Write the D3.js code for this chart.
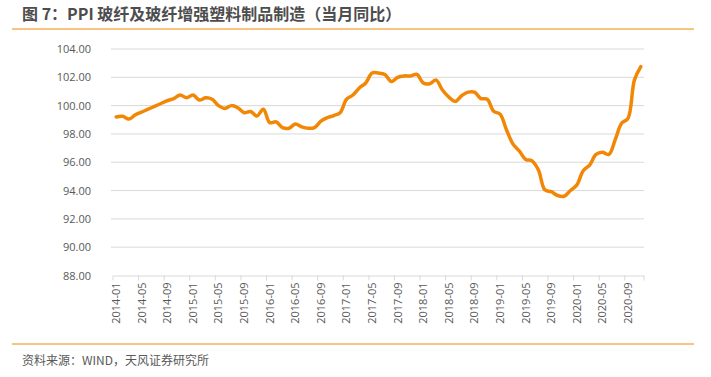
<!DOCTYPE html>
<html>
<head>
<meta charset="utf-8">
<script src="https://cdn.jsdelivr.net/npm/d3@7"></script>
<style>
  body { margin: 0; background: #fff; }
  svg { display: block; font-family: "Noto Sans CJK SC", "Noto Sans", sans-serif; }
</style>
</head>
<body>
<div id="chart"></div>
<script>
// monthly categories 2014-01 .. 2020-11
const months = [];
for (let y = 2014; y <= 2020; y++) {
  for (let m = 1; m <= 12; m++) {
    if (y === 2020 && m > 11) break;
    months.push(y + "-" + String(m).padStart(2, "0"));
  }
}

// PPI values
const ppiValues = [
  99.2, 99.25, 99.05, 99.35, 99.55, 99.75, 99.95, 100.15, 100.35, 100.5, 100.75, 100.55,
  100.75, 100.4, 100.55, 100.45, 100.0, 99.8, 100.0, 99.85, 99.5, 99.58, 99.27, 99.75,
  98.8, 98.85, 98.45, 98.4, 98.7, 98.5, 98.4, 98.45, 98.9, 99.15, 99.3, 99.5,
  100.45, 100.75, 101.25, 101.6, 102.3, 102.3, 102.2, 101.7, 102.0, 102.1, 102.1, 102.2,
  101.6, 101.55, 101.8, 101.1, 100.6, 100.3, 100.7, 100.95, 100.95, 100.5, 100.45, 99.6,
  99.4, 98.3, 97.3, 96.8, 96.2, 96.1, 95.45, 94.05, 93.92, 93.65, 93.6, 94.0,
  94.4, 95.4, 95.8, 96.55, 96.7, 96.55, 97.6, 98.75, 99.1, 101.8, 102.75
];

const yTicks = [88, 90, 92, 94, 96, 98, 100, 102, 104];
const xLabelEvery = 4;

const width = 711, height = 377;
const plot = { left: 113, right: 644, top: 49, bottom: 275.5 };
const orange = "#f28705";

const svg = d3.select("#chart").append("svg")
  .attr("width", width)
  .attr("height", height);

// title + rules
svg.append("text")
  .attr("x", 22).attr("y", 20)
  .attr("font-size", 16).attr("font-weight", "bold")
  .attr("fill", "#4d4d4d")
  .text("图 7：PPI 玻纤及玻纤增强塑料制品制造（当月同比）");
svg.append("line")
  .attr("x1", 12).attr("x2", 694).attr("y1", 29).attr("y2", 29)
  .attr("stroke", orange).attr("stroke-width", 1);
svg.append("line")
  .attr("x1", 12).attr("x2", 694).attr("y1", 344).attr("y2", 344)
  .attr("stroke", orange).attr("stroke-width", 1);
svg.append("text")
  .attr("x", 22).attr("y", 365)
  .attr("font-size", 12).attr("fill", "#595959")
  .text("资料来源：WIND，天风证券研究所");

// scales
const x = d3.scaleBand().domain(months).range([plot.left, plot.right]);
const y = d3.scaleLinear().domain([88, 104]).range([plot.bottom, plot.top]);

// gridlines
svg.append("g")
  .selectAll("line")
  .data(yTicks.slice(1))
  .enter().append("line")
  .attr("x1", plot.left - 2).attr("x2", plot.right)
  .attr("y1", d => y(d)).attr("y2", d => y(d))
  .attr("stroke", "#d9d9d9").attr("stroke-width", 1);

// y axis labels
const yAxis = svg.append("g")
  .attr("transform", `translate(${plot.left - 19},0)`)
  .call(d3.axisLeft(y).tickValues(yTicks).tickFormat(d3.format(".2f")).tickSize(0));
yAxis.select(".domain").remove();
yAxis.selectAll("text")
  .attr("font-size", 11).attr("fill", "#595959")
  .attr("font-family", "Open Sans, sans-serif");

// x axis
const tickMonths = months.filter((d, i) => i % xLabelEvery === 0);
const xAxis = svg.append("g")
  .attr("transform", `translate(0,${plot.bottom})`)
  .call(d3.axisBottom(x).tickValues(tickMonths).tickSize(0).tickPadding(6));
xAxis.select(".domain").attr("stroke", "#d9d9d9");
xAxis.selectAll("text")
  .attr("font-size", 11).attr("fill", "#595959")
  .attr("font-family", "Open Sans, sans-serif")
  .attr("text-anchor", "end")
  .attr("dy", "0.35em")
  .attr("transform", "rotate(-90)")
  .attr("x", -7).attr("y", 0);

// tick marks at band boundaries
const boundaries = months.map((d, i) => i).filter(i => i % xLabelEvery === 0).concat([months.length]);
svg.append("g")
  .selectAll("line")
  .data(boundaries)
  .enter().append("line")
  .attr("x1", i => plot.left + i * x.step())
  .attr("x2", i => plot.left + i * x.step())
  .attr("y1", plot.bottom).attr("y2", plot.bottom + 5)
  .attr("stroke", "#d9d9d9");

// line
const line = d3.line()
  .x((d, i) => x(months[i]) + x.bandwidth() / 2)
  .y(d => y(d))
  .curve(d3.curveCatmullRom.alpha(0.5));

svg.append("path")
  .datum(ppiValues)
  .attr("fill", "none")
  .attr("stroke", orange)
  .attr("stroke-width", 3.5)
  .attr("stroke-linejoin", "round")
  .attr("stroke-linecap", "round")
  .attr("d", line);
</script>
</body>
</html>
